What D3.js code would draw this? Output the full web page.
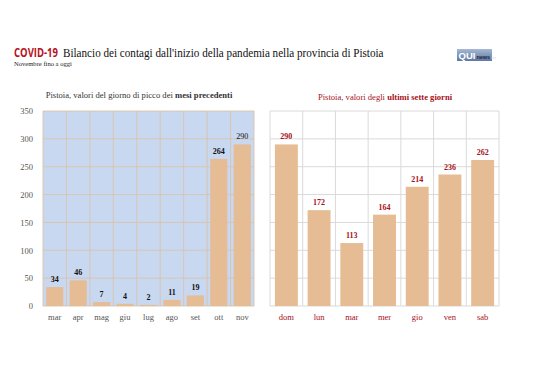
<!DOCTYPE html>
<html><head><meta charset="utf-8">
<script src="https://cdn.jsdelivr.net/npm/d3@7"></script>
<style>body{margin:0;background:#fff}svg{display:block}</style>
</head><body><svg id="c" width="538" height="380"></svg>
<script>
const months = ["mar","apr","mag","giu","lug","ago","set","ott","nov"];
const monthValues = [34,46,7,4,2,11,19,264,290];
const days = ["dom","lun","mar","mer","gio","ven","sab"];
const dayValues = [290,172,113,164,214,236,262];
const yTicks = [0,50,100,150,200,250,300,350];

const svg = d3.select("#c");
const serif = "'Liberation Serif','DejaVu Serif',serif";
const sans = "'Open Sans','Liberation Sans',sans-serif";
const barColor = "#e5bc93";
const red = "#a8101a";

// text squeezed horizontally to a target width
function fitText(str, family, weight, size, fill, x, yy, target) {
  const t = svg.append("text").attr("font-family",family).attr("font-weight",weight)
    .attr("font-size",size).attr("fill",fill).text(str);
  const w = t.node().getComputedTextLength();
  t.attr("transform",`translate(${x},${yy}) scale(${target / w},1)`);
  return t;
}
fitText("COVID-19", sans, "bold", 12.5, "#b5121b", 14, 57, 44);
fitText("Bilancio dei contagi dall'inizio della pandemia nella provincia di Pistoia", serif, "normal", 13.5, "#111", 63, 57, 321);
fitText("Novembre fino a oggi", serif, "normal", 7, "#222", 14, 66, 58);

// logo
const grad = svg.append("defs").append("linearGradient").attr("id","lg").attr("x1",0).attr("x2",0).attr("y1",0).attr("y2",1);
grad.append("stop").attr("offset","0").attr("stop-color","#a6b9d4");
grad.append("stop").attr("offset","1").attr("stop-color","#5d78a2");
const lg = svg.append("g").attr("transform","translate(457,49)");
lg.append("rect").attr("width",35).attr("height",12).attr("fill","url(#lg)");
const lt = lg.append("text").attr("x",1.5).attr("y",9.5).attr("font-family","'Liberation Sans',sans-serif");
lt.append("tspan").attr("font-weight","bold").attr("font-size",9.5).attr("fill","#fff").text("QUI");
lt.append("tspan").attr("dx",1).attr("font-weight","bold").attr("font-size",5.5).attr("fill","#1d2a44").text("news");
lt.append("tspan").attr("font-size",3.5).attr("fill","#d0dbea").text(".net");

const y = d3.scaleLinear().domain([0,350]).range([306,111]);

// LEFT CHART
const x1 = d3.scaleBand().domain(months).range([43,254]).paddingInner(0.27).paddingOuter(0.135);
const g1 = svg.append("g");
g1.append("rect").attr("x",43).attr("y",y(350)).attr("width",211).attr("height",y(0)-y(350)).attr("fill","#c9d8f1");
const step1 = x1.step();
g1.selectAll("line.h").data(yTicks).join("line").attr("x1",43).attr("x2",254)
  .attr("y1",d=>y(d)).attr("y2",d=>y(d)).attr("stroke","#d8c4aa").attr("stroke-width",0.9);
g1.selectAll("line.v").data(d3.range(months.length+1)).join("line")
  .attr("x1",i=>43+i*step1).attr("x2",i=>43+i*step1).attr("y1",y(350)).attr("y2",y(0))
  .attr("stroke","#d8c4aa").attr("stroke-width",0.9);
g1.selectAll("rect.b").data(monthValues).join("rect").attr("class","b")
  .attr("x",(d,i)=>x1(months[i])).attr("width",x1.bandwidth())
  .attr("y",d=>y(d)).attr("height",d=>y(0)-y(d)).attr("fill",barColor);
g1.selectAll("text.v").data(monthValues).join("text").attr("class","v")
  .attr("x",(d,i)=>x1(months[i])+x1.bandwidth()/2).attr("y",d=>y(d)-5)
  .attr("text-anchor","middle").attr("font-family",serif).attr("font-size",8)
  .attr("font-weight",(d,i)=>i===months.length-1?"normal":"bold").attr("fill","#111").text(d=>d);
const ax1 = d3.axisLeft(y).tickValues(yTicks).tickSize(0).tickPadding(10);
g1.append("g").attr("transform","translate(43,0)").call(ax1)
  .call(g=>g.select(".domain").remove())
  .call(g=>g.selectAll("text").attr("font-family",serif).attr("font-size",8.5).attr("fill","#555"));
const bx1 = d3.axisBottom(x1).tickSize(0).tickPadding(8);
g1.append("g").attr("transform","translate(0,306)").call(bx1)
  .call(g=>g.select(".domain").remove())
  .call(g=>g.selectAll("text").attr("font-family",serif).attr("font-size",8.5).attr("fill","#555"));
const t1 = svg.append("text").attr("x",139).attr("y",98).attr("text-anchor","middle")
  .attr("font-family",serif).attr("font-size",8.6).attr("fill","#333");
t1.append("tspan").text("Pistoia, valori del giorno di picco dei ");
t1.append("tspan").attr("font-weight","bold").text("mesi precedenti");

// RIGHT CHART
const x2 = d3.scaleBand().domain(days).range([270,499]).paddingInner(0.3).paddingOuter(0.15);
const g2 = svg.append("g");
const step2 = x2.step();
g2.selectAll("line.h").data(yTicks).join("line").attr("x1",270).attr("x2",499)
  .attr("y1",d=>y(d)).attr("y2",d=>y(d)).attr("stroke","#dadada").attr("stroke-width",1);
g2.selectAll("line.v").data(d3.range(days.length+1)).join("line")
  .attr("x1",i=>270+i*step2).attr("x2",i=>270+i*step2).attr("y1",y(350)).attr("y2",y(0))
  .attr("stroke","#dadada").attr("stroke-width",1);
g2.selectAll("rect.b").data(dayValues).join("rect").attr("class","b")
  .attr("x",(d,i)=>x2(days[i])).attr("width",x2.bandwidth())
  .attr("y",d=>y(d)).attr("height",d=>y(0)-y(d)).attr("fill",barColor);
g2.selectAll("text.v").data(dayValues).join("text").attr("class","v")
  .attr("x",(d,i)=>x2(days[i])+x2.bandwidth()/2).attr("y",d=>y(d)-5)
  .attr("text-anchor","middle").attr("font-family",serif).attr("font-size",8)
  .attr("font-weight","bold").attr("fill",red).text(d=>d);
const bx2 = d3.axisBottom(x2).tickSize(0).tickPadding(8);
g2.append("g").attr("transform","translate(0,306)").call(bx2)
  .call(g=>g.select(".domain").remove())
  .call(g=>g.selectAll("text").attr("font-family",serif).attr("font-size",8.5).attr("fill",red));
const t2 = svg.append("text").attr("x",385).attr("y",100).attr("text-anchor","middle")
  .attr("font-family",serif).attr("font-size",8.6).attr("fill",red);
t2.append("tspan").text("Pistoia, valori degli ");
t2.append("tspan").attr("font-weight","bold").text("ultimi sette giorni");
</script></body></html>
